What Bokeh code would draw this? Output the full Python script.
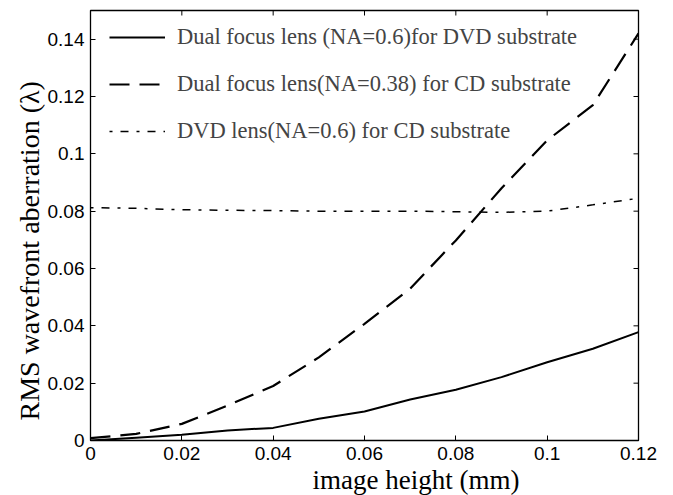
from bokeh.plotting import figure
from bokeh.models import LinearAxis, FixedTicker, Legend, LegendItem, Range1d, Title
from bokeh.embed import file_html
from bokeh.resources import INLINE

# ---- data ----
x_vals = [0.0, 0.01, 0.02, 0.03, 0.04, 0.05, 0.06, 0.07, 0.08, 0.09, 0.10, 0.11, 0.12]
dvd_dual = [0.0, 0.001, 0.0020, 0.0035, 0.0044, 0.0076, 0.0101, 0.0143, 0.0177, 0.0221, 0.0273, 0.0320, 0.0378]
cd_dual = [0.0008, 0.0023, 0.0058, 0.0122, 0.0190, 0.0290, 0.0407, 0.0530, 0.0698, 0.0880, 0.1047, 0.1170, 0.1420]
dvd_lens_cd = [0.0812, 0.0810, 0.0805, 0.0803, 0.0802, 0.0800, 0.0800, 0.0800, 0.0798, 0.0796, 0.0800, 0.0822, 0.0845]

x_ticks = [0, 0.02, 0.04, 0.06, 0.08, 0.10, 0.12]
x_tick_labels = ["0", "0.02", "0.04", "0.06", "0.08", "0.1", "0.12"]
y_ticks = [0, 0.02, 0.04, 0.06, 0.08, 0.10, 0.12, 0.14]
y_tick_labels = ["0", "0.02", "0.04", "0.06", "0.08", "0.1", "0.12", "0.14"]

series_names = [
    "Dual focus lens (NA=0.6)for DVD substrate",
    "Dual focus lens(NA=0.38) for CD substrate",
    "DVD lens(NA=0.6) for CD substrate",
]
x_title = "image height (mm)"
y_title = "RMS wavefront  aberration (\u03bb)"

SERIF = "Liberation Serif"
SANS = "Liberation Sans"

X0, X1 = 0.0, 0.12
Y0, Y1 = 0.0, 0.15
FW, FH = 548, 430
TICK = 5

p = figure(frame_width=FW, frame_height=FH, output_backend="svg", toolbar_location=None,
           x_range=Range1d(X0, X1), y_range=Range1d(Y0, Y1),
           x_axis_location=None, y_axis_location=None,
           min_border_left=90, min_border_right=35, min_border_top=10, min_border_bottom=55)
p.xgrid.visible = False
p.ygrid.visible = False
p.outline_line_color = "black"
p.outline_line_width = 1.3
p.background_fill_color = "white"
p.border_fill_color = "white"

def make_axis(ticks, labels):
    ax = LinearAxis(ticker=FixedTicker(ticks=ticks))
    ax.major_label_overrides = {t: l for t, l in zip(ticks, labels)}
    ax.major_tick_in = TICK
    ax.major_tick_out = 0
    ax.minor_tick_in = 0
    ax.minor_tick_out = 0
    ax.axis_line_color = "black"
    ax.major_tick_line_color = "black"
    ax.major_label_text_font = SANS
    ax.major_label_text_font_size = "19px"
    ax.major_label_text_color = "black"
    ax.major_label_standoff = 6
    return ax

xb = make_axis(x_ticks, x_tick_labels)
p.add_layout(xb, "below")
yl = make_axis(y_ticks, y_tick_labels)
p.add_layout(yl, "left")

# mirrored inward ticks on the top and right edges (MATLAB box style)
dy = TICK * (Y1 - Y0) / FH
dx = TICK * (X1 - X0) / FW
p.segment(x0=x_ticks, y0=[Y1] * len(x_ticks), x1=x_ticks, y1=[Y1 - dy] * len(x_ticks),
          line_color="black", line_width=1)
p.segment(x0=[X1] * len(y_ticks), y0=y_ticks, x1=[X1 - dx] * len(y_ticks), y1=y_ticks,
          line_color="black", line_width=1)

r1 = p.line(x_vals, dvd_dual, line_color="black", line_width=2)
r2 = p.line(x_vals, cd_dual, line_color="black", line_width=2.2, line_dash="20 10")
r3 = p.line(x_vals, dvd_lens_cd, line_color="black", line_width=1.5, line_dash="3 8 8 8")

legend = Legend(items=[LegendItem(label=series_names[0], renderers=[r1]),
                       LegendItem(label=series_names[1], renderers=[r2]),
                       LegendItem(label=series_names[2], renderers=[r3])],
                location=(19, 296), border_line_color=None, background_fill_alpha=0,
                label_text_font=SERIF, label_text_font_size="22.5px",
                glyph_width=56, glyph_height=22, label_height=22, spacing=21,
                padding=4, margin=0, label_standoff=12)
p.add_layout(legend, "center")

xt = Title(text=x_title, align="left", offset=222, text_font=SERIF, text_font_size="27px",
           text_font_style="normal", text_color="black", standoff=0)
p.add_layout(xt, "below")
yt = Title(text=y_title, align="left", offset=20, text_font=SERIF, text_font_size="28px",
           text_font_style="normal", text_color="black", standoff=0)
p.add_layout(yt, "left")

open("out.html", "w").write(file_html(p, INLINE))
